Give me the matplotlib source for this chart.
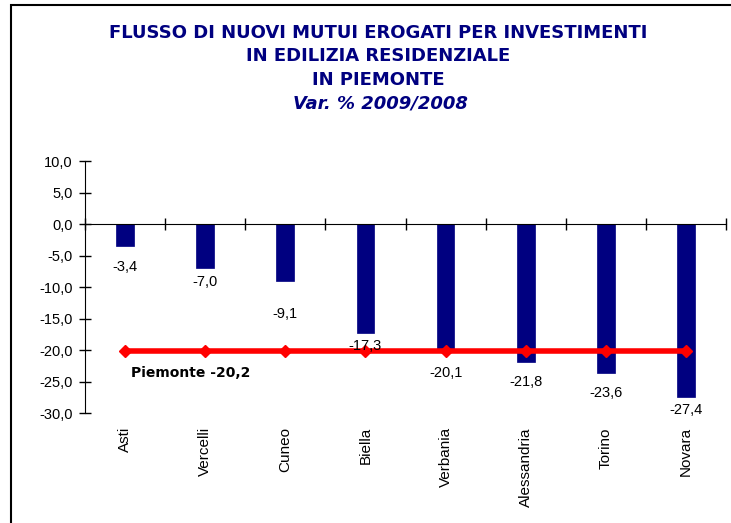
import numpy as np
import matplotlib
matplotlib.use('Agg')
import matplotlib.pyplot as plt
from matplotlib.patches import Rectangle
from matplotlib.ticker import FuncFormatter, FixedLocator

# Dati: variazione % 2009/2008 dei nuovi mutui per provincia
province = ['Asti', 'Vercelli', 'Cuneo', 'Biella', 'Verbania', 'Alessandria', 'Torino', 'Novara']
var_pct = [-3.4, -7.0, -9.1, -17.3, -20.1, -21.8, -23.6, -27.4]
piemonte = -20.2
piemonte_label = 'Piemonte -20,2'

titolo = 'FLUSSO DI NUOVI MUTUI EROGATI PER INVESTIMENTI\nIN EDILIZIA RESIDENZIALE\nIN PIEMONTE'
sottotitolo = 'Var. % 2009/2008'

# distanza (pixel) delle etichette sotto le barre, come nell'originale
gap_px = [21, 14, 33, 13, 22, 20, 20, 13]

navy = '#000080'
W, H = 731, 523


def virgola(v, pos=None):
    return f'{v:.1f}'.replace('.', ',')


fig = plt.figure(figsize=(W / 100, H / 100), dpi=100)
ax = fig.add_axes([85 / W, 1 - 413.3 / H, (726 - 85) / W, (413.3 - 161) / H])

x = np.arange(len(province))
ax.bar(x, var_pct, width=0.22, color=navy, edgecolor=navy, linewidth=0.5, zorder=2)
ax.plot(x, [piemonte] * len(x), color='#ff0000', lw=4, marker='D', ms=6,
        mfc='#ff0000', mec='#ff0000', zorder=3)

for xi, v, g in zip(x, var_pct, gap_px):
    ax.annotate(virgola(v), xy=(xi, v), xytext=(0, -g * 0.72), textcoords='offset points',
                ha='center', va='center', fontsize=10.5, family='Liberation Sans', zorder=4)

ax.annotate(piemonte_label, xy=(x[0], piemonte), xytext=(4, -15.4), textcoords='offset points',
            ha='left', va='center', fontsize=10, fontweight='bold', family='DejaVu Sans')

ax.set_xlim(-0.5, len(x) - 0.5)
ax.set_ylim(-30, 10)
ax.set_yticks(np.arange(-30, 10.1, 5))
ax.yaxis.set_major_formatter(FuncFormatter(virgola))
ax.tick_params(axis='y', direction='inout', length=8, width=1, pad=5, labelsize=10.5)
for lab in ax.get_yticklabels():
    lab.set_family('Liberation Sans')

# asse x sullo zero, tacche tra le categorie
ax.spines['bottom'].set_position(('data', 0))
ax.spines['top'].set_visible(False)
ax.spines['right'].set_visible(False)
ax.set_xticks([])
ax.xaxis.set_minor_locator(FixedLocator(np.arange(-0.5, len(x), 1.0)))
ax.tick_params(axis='x', which='minor', direction='inout', length=8, width=1)

for xi, nome in zip(x, province):
    ax.text(xi, -0.055, nome, transform=ax.get_xaxis_transform(), rotation=90,
            ha='center', va='top', fontsize=11, family='Liberation Sans')

fig.text(378 / W, 1 - 56.2 / H, titolo, ha='center', va='center', color=navy,
         fontsize=13, fontweight='bold', family='DejaVu Sans', linespacing=1.39)
fig.text(380 / W, 1 - 103 / H, sottotitolo, ha='center', va='center', color=navy,
         fontsize=13, fontweight='bold', style='italic', family='DejaVu Sans')

# cornice del grafico
fig.patches.append(Rectangle((11 / W, -0.1), 2, 1 - 5 / H + 0.1, transform=fig.transFigure,
                             fill=False, edgecolor='black', lw=1.5))

plt.savefig('out.png', dpi=100)
